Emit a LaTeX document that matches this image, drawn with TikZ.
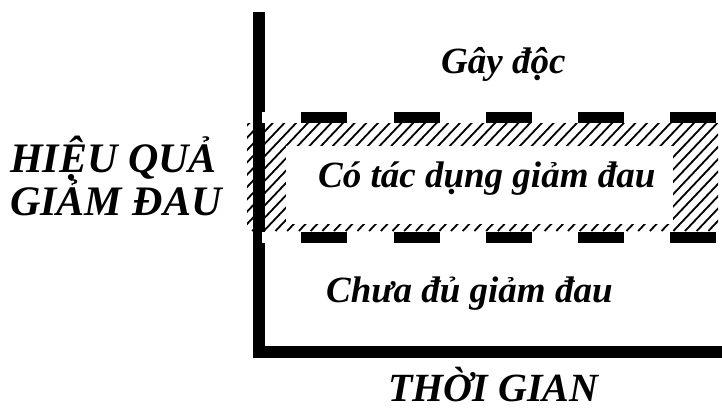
\documentclass[tikz,border=0pt]{standalone}
\usepackage{fontspec}
\setmainfont{Liberation Serif}
\begin{document}
\begin{tikzpicture}[x=1pt,y=-1pt,
  lbl/.style={inner sep=0pt,font=\bfseries\itshape\fontsize{37}{40}\selectfont},
  biglbl/.style={inner sep=0pt,font=\bfseries\itshape\fontsize{42}{45}\selectfont},
  axisline/.style={line width=12pt},
  dashbar/.style={fill=black},
  hatchline/.style={line width=1.8pt}]
\useasboundingbox (0,0) rectangle (722,416);
% hatched band
\begin{scope}
  \clip (247,123) rectangle (718,231);
  \foreach \x in {100,111.7,...,740}
    \draw[hatchline] (\x,231) -- ++(112,-118);
\end{scope}
\fill[white] (286,146) rectangle (673,224);
% axes
\draw[axisline] (259,12) -- (259,358);
\draw[axisline] (253,352) -- (722,352);
% white notches of dashed lines
\fill[white] (262,112) rectangle (301,123);
\fill[white] (262,232) rectangle (301,243);
% dashed bars
\foreach \x [count=\i] in {301,393.5,486,578,670} {
  \fill[dashbar] (\x,112) rectangle ++(46,11);
  \fill[dashbar] (\x,231.5) rectangle ++(46,11);
}
% labels
\node[lbl,anchor=base west] (tox) at (441,73) {Gây độc};
\node[lbl,anchor=base west] (eff) at (318,187) {Có tác dụng giảm đau};
\node[lbl,anchor=base west] (low) at (326,302) {Chưa đủ giảm đau};
\node[biglbl,anchor=base west] (yl1) at (10,172) {HIỆU QUẢ};
\node[biglbl,anchor=base west] (yl2) at (10,215) {GIẢM ĐAU};
\node[inner sep=0pt,font=\bfseries\itshape\fontsize{40}{43}\selectfont,anchor=base west] (xl) at (388,401) {THỜI GIAN};
\end{tikzpicture}
\end{document}
